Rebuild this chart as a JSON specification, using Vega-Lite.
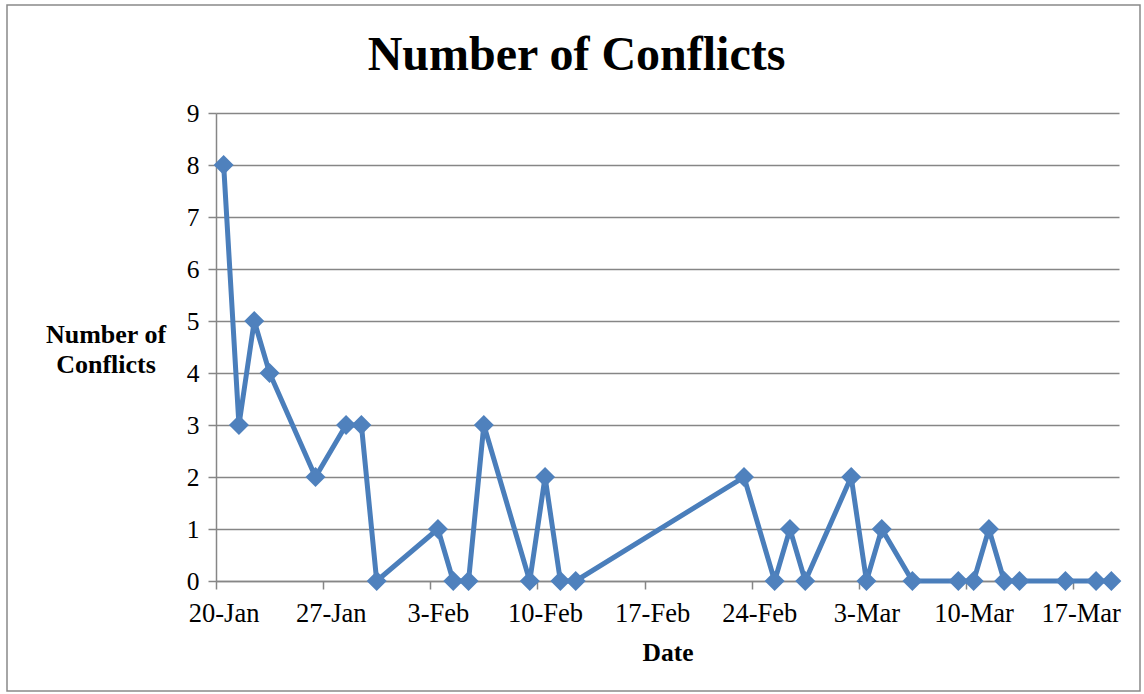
{
  "$schema": "https://vega.github.io/schema/vega-lite/v6.json",
  "autosize": {"type": "none"},
  "width": 1133,
  "height": 686,
  "padding": {"left": 7, "top": 5, "right": 4, "bottom": 3},
  "background": "white",
  "config": {
    "font": "Liberation Serif",
    "view": {"stroke": "#898989", "strokeWidth": 1.5}
  },
  "title": {
    "text": "Number of Conflicts",
    "font": "Liberation Serif",
    "fontSize": 48,
    "fontWeight": "bold",
    "color": "black",
    "anchor": "middle",
    "baseline": "alphabetic",
    "offset": -48,
    "dy": 65,
    "dx": 3
  },
  "data": {
    "values": [
      {"date": "2013-01-20", "conflicts": 8},
      {"date": "2013-01-21", "conflicts": 3},
      {"date": "2013-01-22", "conflicts": 5},
      {"date": "2013-01-23", "conflicts": 4},
      {"date": "2013-01-26", "conflicts": 2},
      {"date": "2013-01-28", "conflicts": 3},
      {"date": "2013-01-29", "conflicts": 3},
      {"date": "2013-01-30", "conflicts": 0},
      {"date": "2013-02-03", "conflicts": 1},
      {"date": "2013-02-04", "conflicts": 0},
      {"date": "2013-02-05", "conflicts": 0},
      {"date": "2013-02-06", "conflicts": 3},
      {"date": "2013-02-09", "conflicts": 0},
      {"date": "2013-02-10", "conflicts": 2},
      {"date": "2013-02-11", "conflicts": 0},
      {"date": "2013-02-12", "conflicts": 0},
      {"date": "2013-02-23", "conflicts": 2},
      {"date": "2013-02-25", "conflicts": 0},
      {"date": "2013-02-26", "conflicts": 1},
      {"date": "2013-02-27", "conflicts": 0},
      {"date": "2013-03-02", "conflicts": 2},
      {"date": "2013-03-03", "conflicts": 0},
      {"date": "2013-03-04", "conflicts": 1},
      {"date": "2013-03-06", "conflicts": 0},
      {"date": "2013-03-09", "conflicts": 0},
      {"date": "2013-03-10", "conflicts": 0},
      {"date": "2013-03-11", "conflicts": 1},
      {"date": "2013-03-12", "conflicts": 0},
      {"date": "2013-03-13", "conflicts": 0},
      {"date": "2013-03-16", "conflicts": 0},
      {"date": "2013-03-18", "conflicts": 0},
      {"date": "2013-03-19", "conflicts": 0}
    ]
  },
  "encoding": {
    "x": {
      "field": "date",
      "type": "temporal",
      "timeUnit": "utcyearmonthdate",
      "bandPosition": 0.5,
      "scale": {
        "domain": [
          {"year": 2013, "month": 1, "date": 20, "utc": true},
          {"year": 2013, "month": 3, "date": 20, "utc": true}
        ],
        "range": [209, 1112],
        "nice": false
      },
      "axis": {
        "values": [
          {"year": 2013, "month": 1, "date": 20, "utc": true},
          {"year": 2013, "month": 1, "date": 27, "utc": true},
          {"year": 2013, "month": 2, "date": 3, "utc": true},
          {"year": 2013, "month": 2, "date": 10, "utc": true},
          {"year": 2013, "month": 2, "date": 17, "utc": true},
          {"year": 2013, "month": 2, "date": 24, "utc": true},
          {"year": 2013, "month": 3, "date": 3, "utc": true},
          {"year": 2013, "month": 3, "date": 10, "utc": true},
          {"year": 2013, "month": 3, "date": 17, "utc": true}
        ],
        "format": "%-d-%b",
        "offset": -110,
        "grid": false,
        "domainColor": "#868686",
        "domainWidth": 1.5,
        "tickColor": "#868686",
        "tickWidth": 1.5,
        "tickSize": 8,
        "labelFont": "Liberation Serif",
        "labelFontSize": 26.5,
        "labelColor": "black",
        "labelPadding": 11,
        "labelOffset": 7.6,
        "labelOverlap": false,
        "labelFlush": false,
        "title": "Date",
        "titleFont": "Liberation Serif",
        "titleFontSize": 25.5,
        "titleFontWeight": "bold",
        "titleColor": "black",
        "titleBaseline": "alphabetic",
        "titleX": 660.5,
        "titleY": 79
      }
    },
    "y": {
      "field": "conflicts",
      "type": "quantitative",
      "scale": {"domain": [0, 9], "range": [576, 108], "nice": false, "zero": true},
      "axis": {
        "values": [0, 1, 2, 3, 4, 5, 6, 7, 8, 9],
        "offset": -209,
        "grid": true,
        "gridColor": "#868686",
        "gridWidth": 1.5,
        "domainColor": "#868686",
        "domainWidth": 1.5,
        "tickColor": "#868686",
        "tickWidth": 1.5,
        "tickSize": 8,
        "labelFont": "Liberation Serif",
        "labelFontSize": 25.5,
        "labelColor": "black",
        "labelPadding": 9,
        "labelFlush": false,
        "title": ["Number of", "Conflicts"],
        "titleFont": "Liberation Serif",
        "titleFontSize": 26,
        "titleFontWeight": "bold",
        "titleColor": "black",
        "titleAngle": 0,
        "titleAlign": "center",
        "titleBaseline": "alphabetic",
        "titleLineHeight": 30,
        "titleX": -110.5,
        "titleY": 337
      }
    }
  },
  "layer": [
    {"mark": {"type": "line", "color": "#4A7EBB", "strokeWidth": 5}},
    {"mark": {"type": "point", "shape": "diamond", "filled": true, "size": 400, "color": "#4F81BD", "opacity": 1}}
  ]
}
